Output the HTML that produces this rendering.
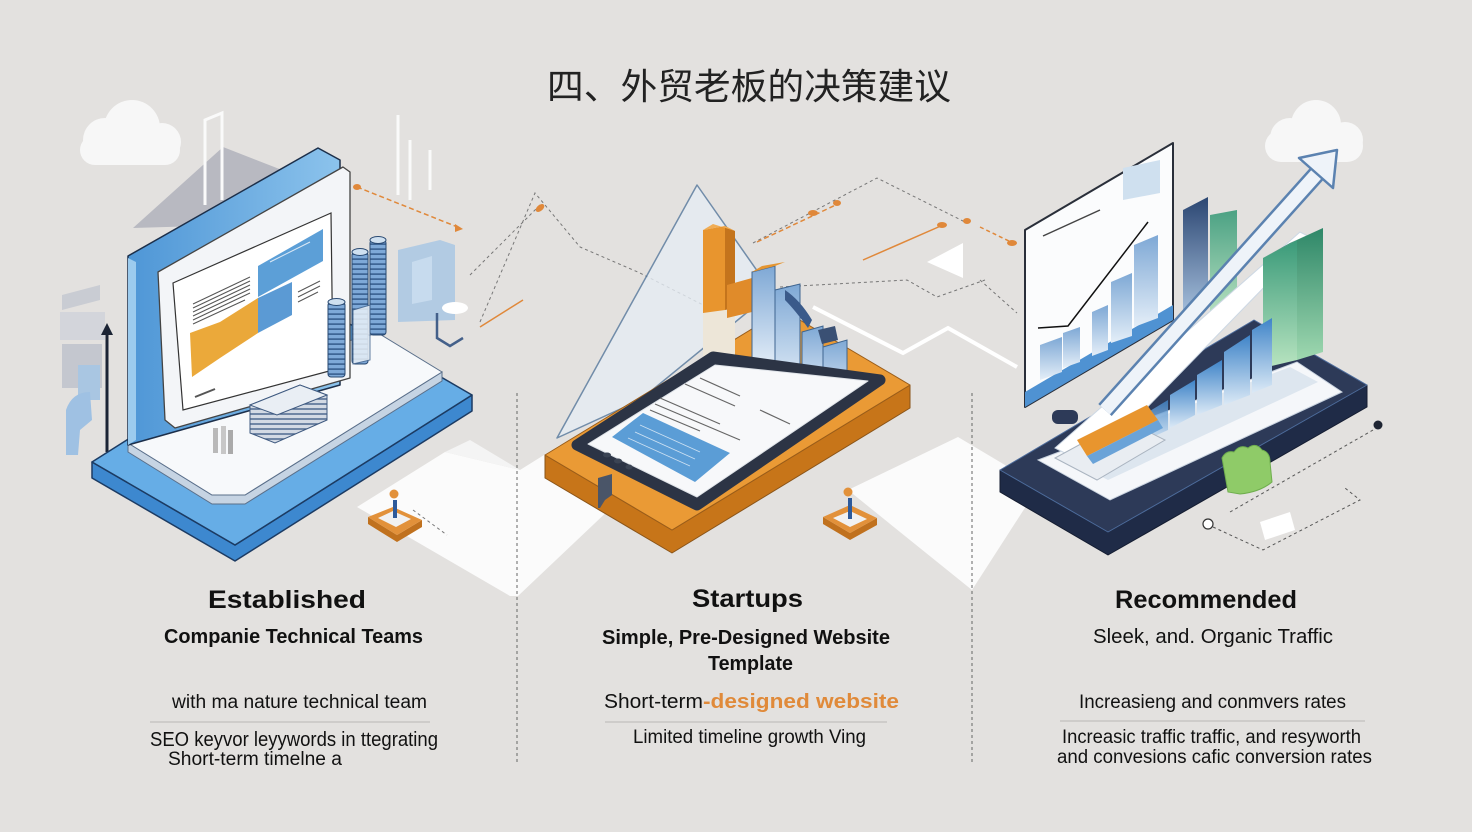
<!DOCTYPE html>
<html><head><meta charset="utf-8"><style>
html,body{margin:0;padding:0;background:#e3e1df;}
svg{display:block}
</style></head><body>
<svg width="1472" height="832" viewBox="0 0 1472 832" xmlns="http://www.w3.org/2000/svg">
<defs>
<linearGradient id="gPanel" x1="0" y1="0" x2="1" y2="0"><stop offset="0" stop-color="#4e96d6"/><stop offset="1" stop-color="#8cc3ec"/></linearGradient>
<linearGradient id="gGlass" x1="0" y1="0" x2="0" y2="1"><stop offset="0" stop-color="#7ea8d5"/><stop offset="1" stop-color="#e4eef8"/></linearGradient>
<linearGradient id="gGlass2" x1="0" y1="0" x2="0" y2="1"><stop offset="0" stop-color="#3f84c8"/><stop offset="1" stop-color="#dbe9f6"/></linearGradient>
<linearGradient id="gNavy" x1="0" y1="0" x2="0" y2="1"><stop offset="0" stop-color="#2b4672"/><stop offset="1" stop-color="#a9c3e0"/></linearGradient>
<linearGradient id="gGreen" x1="0" y1="0" x2="0" y2="1"><stop offset="0" stop-color="#3a9a79"/><stop offset="1" stop-color="#b8e4c0"/></linearGradient>
<linearGradient id="gGreen2" x1="0" y1="0" x2="0" y2="1"><stop offset="0" stop-color="#2e8768"/><stop offset="1" stop-color="#9fd8b0"/></linearGradient>
<pattern id="stripe" width="6" height="5" patternUnits="userSpaceOnUse"><rect width="6" height="5" fill="#7ea9d8"/><rect y="3.4" width="6" height="1.4" fill="#2f5585"/></pattern>
<pattern id="stripeG" width="6" height="5" patternUnits="userSpaceOnUse"><rect width="6" height="5" fill="#d3dae4"/><rect y="3.3" width="6" height="1.4" fill="#46628a"/></pattern>
</defs>
<rect width="1472" height="832" fill="#e3e1df"/>

<!-- white floor shapes -->
<polygon points="357,507 445,452 520,470 560,445 632,488 518,596 510,596" fill="#fbfbfb"/>
<polygon points="848,490 958,437 1005,465 1030,500 972,590" fill="#fbfbfb"/>
<polygon points="520,470 470,440 445,452" fill="#f4f4f4"/>
<polyline points="813,307 903,353 948,328 1017,367" fill="none" stroke="#fff" stroke-width="4"/>
<polygon points="927,262 963,243 963,278" fill="#fff"/>

<!-- background dashed lines -->
<g fill="none" stroke="#777" stroke-width="1" stroke-dasharray="3,3">
<polyline points="480,322 535,193 580,247 640,273 713,310"/>
<polyline points="753,243 877,178 967,223"/>
<polyline points="780,287 907,280 937,297 985,280"/>
<polyline points="470,275 540,205"/>
<polyline points="413,510 447,535"/>
<polyline points="980,280 1017,313"/>
<polyline points="600,440 650,465"/>
</g>
<g fill="none" stroke="#e0883a" stroke-width="1.5">
<polyline points="357,187 460,228" stroke-dasharray="5,3"/>
<polyline points="480,327 523,300"/>
<polyline points="757,242 840,203" stroke-dasharray="5,3"/>
<polyline points="863,260 943,225"/>
<polyline points="980,227 1013,243" stroke-dasharray="4,3"/>
</g>
<g fill="#e0883a">
<ellipse cx="540" cy="208" rx="5" ry="3" transform="rotate(-40 540 208)"/>
<ellipse cx="813" cy="213" rx="5" ry="3"/>
<ellipse cx="837" cy="203" rx="4" ry="3"/>
<ellipse cx="942" cy="225" rx="5" ry="3"/>
<ellipse cx="967" cy="221" rx="4" ry="3"/>
<ellipse cx="1012" cy="243" rx="5" ry="3"/>
<ellipse cx="357" cy="187" rx="4" ry="3"/>
<polygon points="455,224 463,229 455,232"/>
</g>

<!-- clouds -->
<g fill="#f7f7f7">
<rect x="80" y="135" width="100" height="30" rx="15"/>
<circle cx="105" cy="140" r="22"/><circle cx="132" cy="128" r="28"/><circle cx="162" cy="142" r="19"/>
</g>
<g fill="#f7f7f7">
<rect x="1265" y="130" width="98" height="32" rx="16"/>
<circle cx="1290" cy="138" r="20"/><circle cx="1316" cy="125" r="25"/><circle cx="1345" cy="140" r="18"/>
</g>

<!-- LEFT GROUP -->
<polygon points="133,228 223,147 282,170 200,226" fill="#b8b9c1"/>
<g stroke="#fafafa" stroke-width="3" fill="none">
<polyline points="205,205 205,120 222,113 222,200"/>
<polyline points="398,195 398,115"/><polyline points="410,200 410,140"/>
<polyline points="430,190 430,150"/>
</g>
<polygon points="62,295 100,285 100,300 62,310" fill="#c9ccd3"/>
<rect x="60" y="312" width="45" height="28" fill="#d3d5db"/>
<rect x="62" y="344" width="40" height="44" fill="#c4c7cf"/>
<rect x="78" y="365" width="22" height="35" fill="#a9c6e2"/>
<path d="M66,455 L66,410 Q72,392 90,392 L92,420 L80,430 L78,455 Z" fill="#9fc1e3"/>
<line x1="107" y1="452" x2="107" y2="332" stroke="#1b2435" stroke-width="3"/>
<polygon points="101,335 107,323 113,335" fill="#1b2435"/>
<polygon points="398,250 440,240 455,245 455,320 398,322" fill="#a9c7e4" opacity="0.85"/>
<polygon points="412,262 432,256 432,300 412,304" fill="#c7dbee"/>
<ellipse cx="455" cy="308" rx="13" ry="6" fill="#fff"/>
<path d="M437,313 L437,338 L450,346 L463,338" stroke="#44608a" stroke-width="2.5" fill="none"/>

<!-- blue slab -->
<polygon points="92,462 235,545 472,395 472,411 235,561 92,478" fill="#3d88cf" stroke="#1c3b63" stroke-width="1.5" stroke-linejoin="round"/>
<polygon points="92,462 235,545 472,395 329,312" fill="#66ade6" stroke="#1c3b63" stroke-width="1.5" stroke-linejoin="round"/>
<!-- white plate -->
<polygon points="128,443 212,495 245,495 442,372 442,381 245,504 212,504 128,452" fill="#c6d4e3" stroke="#5a6f8a" stroke-width="1"/>
<polygon points="128,443 212,495 245,495 442,372 378,333 128,400" fill="#f7f9fb" stroke="#5a6f8a" stroke-width="1"/>
<!-- blue panel -->
<polygon points="128,256 318,148 340,160 340,385 128,445" fill="url(#gPanel)" stroke="#1c2f4a" stroke-width="1.5" stroke-linejoin="round"/>
<polygon points="128,258 136,262 136,440 128,445" fill="#9ccbee"/>
<!-- frame -->
<polygon points="158,272 343,167 350,172 350,378 175,428 165,420" fill="#f3f5f8" stroke="#444" stroke-width="1.3" stroke-linejoin="round"/>
<polygon points="173,283 331,213 333,370 183,410" fill="#fff" stroke="#333" stroke-width="1.2"/>
<polygon points="258,266 323,229 323,261 258,297" fill="#5c9fd7"/>
<polygon points="190,333 220,322 220,358 192,377" fill="#eba93a"/>
<polygon points="220,322 258,298 258,333 220,358" fill="#eaa83a"/>
<polygon points="258,298 292,282 292,315 258,333" fill="#5b9ad4"/>
<g stroke="#555" stroke-width="1">
<line x1="193" y1="304" x2="250" y2="277"/><line x1="193" y1="308" x2="250" y2="281"/>
<line x1="193" y1="312" x2="250" y2="285"/><line x1="193" y1="316" x2="250" y2="289"/>
<line x1="193" y1="320" x2="250" y2="293"/><line x1="193" y1="324" x2="245" y2="300"/>
<line x1="298" y1="292" x2="320" y2="281"/><line x1="298" y1="297" x2="320" y2="286"/>
<line x1="298" y1="302" x2="318" y2="292"/>
<line x1="270" y1="262" x2="310" y2="242" stroke="#dce9f6"/>
<line x1="195" y1="397" x2="215" y2="389" stroke-width="2"/>
</g>
<!-- cylinders -->
<rect x="328" y="302" width="17" height="75" rx="3" fill="url(#stripe)" stroke="#2a4a72" stroke-width="1"/>
<ellipse cx="336.5" cy="302" rx="8.5" ry="3.5" fill="#cfe0f0" stroke="#2a4a72"/>
<rect x="352" y="252" width="16" height="112" rx="3" fill="url(#stripe)" stroke="#2a4a72" stroke-width="1"/>
<ellipse cx="360" cy="252" rx="8" ry="3.5" fill="#cfe0f0" stroke="#2a4a72"/>
<rect x="370" y="240" width="16" height="95" rx="3" fill="url(#stripe)" stroke="#2a4a72" stroke-width="1"/>
<ellipse cx="378" cy="240" rx="8" ry="3.5" fill="#cfe0f0" stroke="#2a4a72"/>
<polygon points="353,310 370,305 370,360 353,364" fill="#eaf1f8" opacity="0.85" stroke="#48688f"/>
<!-- gray stack -->
<polygon points="250,405 300,385 327,395 327,420 275,443 250,433" fill="url(#stripeG)" stroke="#3f5a80" stroke-width="1"/>
<polygon points="250,405 300,385 327,395 277,415" fill="#e9eef4" stroke="#3f5a80" stroke-width="1"/>
<rect x="213" y="428" width="5" height="25" fill="#b9b9b9"/><rect x="221" y="426" width="5" height="28" fill="#c7c7c7"/><rect x="228" y="430" width="5" height="24" fill="#aaa"/>
<!-- left figure -->
<polygon points="368,517 397,535 422,520 422,527 397,542 368,524" fill="#c0711e"/>
<polygon points="368,517 393,507 422,520 397,535" fill="#e2913a"/>
<polygon points="378,518 393,511 411,519 396,527" fill="#f1f1f1"/>
<line x1="395" y1="518" x2="395" y2="500" stroke="#2e5a9a" stroke-width="4"/>
<circle cx="394" cy="494" r="4.5" fill="#e2913a"/>

<!-- MIDDLE GROUP -->
<polygon points="697,185 557,438 640,400 772,292" fill="#e6edf4" opacity="0.8" stroke="#55789c" stroke-width="1.5" stroke-linejoin="round"/>
<polygon points="545,455 672,530 910,385 910,408 672,553 545,478" fill="#c77519" stroke="#8a5418" stroke-width="1" stroke-linejoin="round"/>
<polygon points="545,455 672,530 910,385 783,310" fill="#ea9a35" stroke="#9a5d1a" stroke-width="1" stroke-linejoin="round"/>
<!-- orange bar & cream wall -->
<polygon points="703,312 735,308 735,365 703,372" fill="#ede6d8"/>
<polygon points="703,230 725,226 725,310 703,313" fill="#e8952e"/>
<polygon points="725,226 735,231 735,308 725,310" fill="#c4741c"/>
<polygon points="703,230 713,224 735,231 725,226" fill="#f0ad55"/>
<polygon points="727,285 752,278 752,312 727,318" fill="#e08b2a"/>
<!-- glass bars -->
<polygon points="752,272 775,266 775,365 752,368" fill="url(#gGlass)" stroke="#3f6590"/>
<polygon points="752,272 762,266 785,262 775,266" fill="#e59530"/>
<polygon points="775,290 800,284 800,388 775,390" fill="url(#gGlass)" stroke="#3f6590"/>
<path d="M785,290 Q800,300 812,320 L808,328 Q795,310 785,300 Z" fill="#3a5a8a"/>
<polygon points="802,332 823,326 823,395 802,397" fill="url(#gGlass)" stroke="#3f6590"/>
<polygon points="823,347 847,340 847,402 823,404" fill="url(#gGlass)" stroke="#3f6590"/>
<polygon points="818,330 835,326 838,340 822,344" fill="#3a5074"/>
<!-- phone -->
<polygon points="577,445 697,505 880,380 713,357" fill="#2c3445" stroke="#2c3445" stroke-width="11" stroke-linejoin="round"/>
<polygon points="588,444 697,497 868,381 715,365" fill="#f7f8fa" stroke="#dfe3e8" stroke-width="1" stroke-linejoin="round"/>
<polygon points="612,437 643,413 730,453 695,482" fill="#5b9dd6"/>
<g stroke="#666" stroke-width="1.2">
<line x1="700" y1="378" x2="740" y2="396"/><line x1="685" y1="384" x2="735" y2="406"/>
<line x1="660" y1="398" x2="720" y2="424"/><line x1="655" y1="404" x2="740" y2="440"/>
<line x1="760" y1="410" x2="790" y2="424"/><line x1="650" y1="410" x2="700" y2="431"/>
</g>
<g stroke="#cfe2f3" stroke-width="0.8">
<line x1="640" y1="425" x2="700" y2="452"/><line x1="635" y1="432" x2="695" y2="459"/><line x1="628" y1="438" x2="690" y2="466"/>
</g>
<g fill="#3b4454"><ellipse cx="607" cy="455" rx="4" ry="2.5"/><ellipse cx="618" cy="461" rx="4" ry="2.5"/><ellipse cx="629" cy="467" rx="3.5" ry="2.5"/></g>
<polygon points="598,478 612,474 612,495 605,500 600,508 598,508" fill="#4a5568"/>
<!-- middle figure -->
<polygon points="823,517 850,533 877,518 877,525 850,540 823,524" fill="#c0711e"/>
<polygon points="823,517 850,505 877,518 850,533" fill="#e2913a"/>
<polygon points="833,518 850,511 867,519 850,527" fill="#f1f1f1"/>
<line x1="850" y1="519" x2="850" y2="498" stroke="#2e5a9a" stroke-width="4"/>
<circle cx="848" cy="492" r="4.5" fill="#e2913a"/>

<!-- RIGHT GROUP -->
<polygon points="1025,230 1173,143 1173,320 1025,407" fill="#fbfcfd" stroke="#2a2f3a" stroke-width="2" stroke-linejoin="round"/>
<polygon points="1025,392 1173,305 1173,320 1025,407" fill="#4f92d2"/>
<polygon points="1040,345 1062,337 1062,372 1040,380" fill="url(#gGlass)"/>
<polygon points="1063,333 1080,327 1080,362 1063,368" fill="url(#gGlass)"/>
<polygon points="1092,312 1108,305 1108,350 1092,356" fill="url(#gGlass)"/>
<polygon points="1111,282 1132,273 1132,336 1111,343" fill="url(#gGlass)"/>
<polygon points="1134,245 1158,235 1158,318 1134,327" fill="url(#gGlass)"/>
<polyline points="1038,328 1068,326 1148,222" fill="none" stroke="#111" stroke-width="1.5"/>
<polygon points="1123,168 1160,160 1160,193 1123,200" fill="#cfe0ef"/>
<line x1="1043" y1="236" x2="1100" y2="210" stroke="#444" stroke-width="1.5"/>
<rect x="1052" y="410" width="26" height="14" rx="6" fill="#2d3a58"/>
<!-- back bars -->
<polygon points="1183,210 1208,197 1208,305 1183,318" fill="url(#gNavy)"/>
<polygon points="1210,215 1237,210 1237,315 1210,320" fill="url(#gGreen)" opacity="0.9"/>
<!-- navy slab -->
<polygon points="1000,470 1108,532 1367,385 1367,407 1108,555 1000,492" fill="#1f2b47" stroke="#141c30" stroke-width="1" stroke-linejoin="round"/>
<polygon points="1000,470 1108,532 1367,385 1254,320" fill="#2d3a58" stroke="#4d6c9c" stroke-width="1" stroke-linejoin="round"/>
<!-- tray -->
<polygon points="1038,460 1110,500 1342,392 1297,362" fill="#f5f7fa" stroke="#c9d3df" stroke-width="1"/>
<polygon points="1060,455 1108,480 1318,382 1290,367" fill="#dde6ef"/>
<!-- ramp -->
<polygon points="1055,448 1300,232 1312,238 1090,466" fill="#ffffff" stroke="#cdd8e4" stroke-width="1"/>
<!-- big green bars (in front of ramp) -->
<polygon points="1263,258 1297,240 1297,360 1263,368" fill="url(#gGreen)"/>
<polygon points="1297,240 1323,228 1323,352 1297,360" fill="url(#gGreen2)"/>
<polygon points="1263,258 1290,243 1323,228 1297,240" fill="#2f7f66"/>
<polygon points="1170,395 1195,380 1195,415 1170,428" fill="url(#gGlass2)"/>
<polygon points="1197,375 1222,360 1222,405 1197,415" fill="url(#gGlass2)"/>
<polygon points="1224,352 1250,335 1250,395 1224,405" fill="url(#gGlass2)"/>
<polygon points="1252,330 1272,318 1272,385 1252,393" fill="url(#gGlass2)"/>
<polygon points="1135,420 1168,400 1168,430 1135,445" fill="url(#gGlass2)" opacity="0.8"/>
<!-- arrow -->
<line x1="1105" y1="410" x2="1322" y2="168" stroke="#5b82b0" stroke-width="18" stroke-linecap="butt"/>
<line x1="1105" y1="410" x2="1322" y2="168" stroke="#eef3f9" stroke-width="13"/>
<polygon points="1337,150 1299,158 1333,188" fill="#eef3f9" stroke="#5b82b0" stroke-width="2.5" stroke-linejoin="round"/>
<!-- card -->
<polygon points="1055,458 1097,480 1165,440 1125,420" fill="#e9edf2" stroke="#aab4c0" stroke-width="1"/>
<polygon points="1077,440 1147,405 1158,420 1087,456" fill="#e8952e"/>
<polygon points="1087,456 1158,420 1163,428 1093,464" fill="#6aa3d8"/>
<!-- green blob -->
<path d="M1222,458 Q1226,450 1234,452 Q1240,444 1248,448 Q1256,442 1262,450 Q1270,452 1270,462 L1272,482 Q1260,492 1240,494 L1228,492 Z" fill="#8fcb68" stroke="#6fae4e"/>
<!-- dots & dashes -->
<circle cx="1378" cy="425" r="4.5" fill="#1f2533"/>
<circle cx="1208" cy="524" r="5" fill="#fff" stroke="#333" stroke-width="1.2"/>
<g fill="none" stroke="#555" stroke-width="1" stroke-dasharray="3,3">
<polyline points="1213,527 1263,550 1360,500 1345,488"/>
<polyline points="1230,512 1373,430"/>
</g>
<polygon points="1260,522 1290,512 1295,530 1265,540" fill="#fff"/>

<!-- dividers -->
<g stroke="#666" stroke-width="1" stroke-dasharray="3,3">
<line x1="517" y1="393" x2="517" y2="765"/>
<line x1="972" y1="393" x2="972" y2="765"/>
</g>

<!-- TITLE -->
<text x="547" y="99" font-family="'Liberation Sans','Noto Sans CJK SC',sans-serif" font-size="36" fill="#222" textLength="404" lengthAdjust="spacingAndGlyphs">四、外贸老板的决策建议</text>

<!-- TEXT -->
<g font-family="'Liberation Sans',sans-serif" fill="#111">
<text x="208" y="608" font-size="25" font-weight="bold" textLength="158" lengthAdjust="spacingAndGlyphs">Established</text>
<text x="164" y="643" font-size="20" font-weight="bold" textLength="259" lengthAdjust="spacingAndGlyphs">Companie Technical Teams</text>
<text x="172" y="708" font-size="19" textLength="255" lengthAdjust="spacingAndGlyphs">with ma nature technical team</text>
<line x1="150" y1="722" x2="430" y2="722" stroke="#b8b6b4" stroke-width="1"/>
<text x="150" y="746" font-size="20" textLength="288" lengthAdjust="spacingAndGlyphs">SEO keyvor leyywords in ttegrating</text>
<text x="168" y="765" font-size="19" textLength="174" lengthAdjust="spacingAndGlyphs">Short-term timelne a</text>

<text x="692" y="607" font-size="25" font-weight="bold" textLength="111" lengthAdjust="spacingAndGlyphs">Startups</text>
<text x="602" y="644" font-size="20" font-weight="bold" textLength="288" lengthAdjust="spacingAndGlyphs">Simple, Pre-Designed Website</text>
<text x="708" y="670" font-size="20" font-weight="bold" textLength="85" lengthAdjust="spacingAndGlyphs">Template</text>
<text x="604" y="708" font-size="20" textLength="99" lengthAdjust="spacingAndGlyphs">Short-term</text>
<text x="703" y="708" font-size="20" font-weight="bold" fill="#e08a3a" textLength="196" lengthAdjust="spacingAndGlyphs">-designed website</text>
<line x1="605" y1="722" x2="887" y2="722" stroke="#b8b6b4" stroke-width="1"/>
<text x="633" y="743" font-size="19" textLength="233" lengthAdjust="spacingAndGlyphs">Limited timeline growth Ving</text>

<text x="1115" y="608" font-size="25" font-weight="bold" textLength="182" lengthAdjust="spacingAndGlyphs">Recommended</text>
<text x="1093" y="643" font-size="20" textLength="240" lengthAdjust="spacingAndGlyphs">Sleek, and. Organic Traffic</text>
<text x="1079" y="708" font-size="19" textLength="267" lengthAdjust="spacingAndGlyphs">Increasieng and conmvers rates</text>
<line x1="1060" y1="721" x2="1365" y2="721" stroke="#b8b6b4" stroke-width="1"/>
<text x="1062" y="743" font-size="19" textLength="299" lengthAdjust="spacingAndGlyphs">Increasic traffic traffic, and resyworth</text>
<text x="1057" y="763" font-size="19" textLength="315" lengthAdjust="spacingAndGlyphs">and convesions cafic conversion rates</text>
</g>
</svg>
</body></html>
